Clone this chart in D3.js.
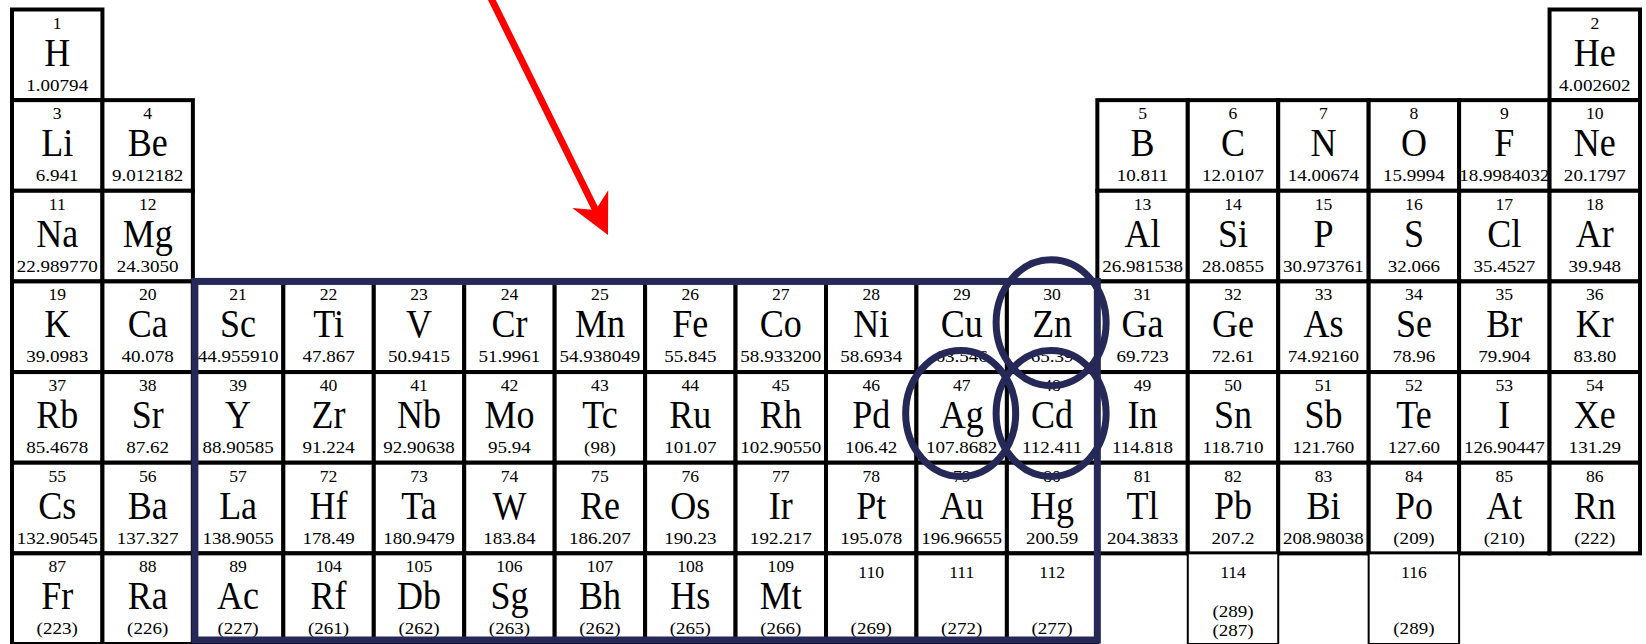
<!DOCTYPE html>
<html>
<head>
<meta charset="utf-8">
<script src="https://cdn.jsdelivr.net/npm/d3@7"></script>
<style>
body { margin: 0; background: #fff; }
svg { display: block; }
text { font-family: "Liberation Serif", "Times New Roman", Times, serif; fill: #000; }
</style>
</head>
<body>
<div id="ptable"></div>
<script>
// element data, one entry per cell
var numbers = [1, 2,
    3, 4, 5, 6, 7, 8, 9, 10,
    11, 12, 13, 14, 15, 16, 17, 18,
    19, 20, 21, 22, 23, 24, 25, 26, 27, 28, 29, 30, 31, 32, 33, 34, 35, 36,
    37, 38, 39, 40, 41, 42, 43, 44, 45, 46, 47, 48, 49, 50, 51, 52, 53, 54,
    55, 56, 57, 72, 73, 74, 75, 76, 77, 78, 79, 80, 81, 82, 83, 84, 85, 86,
    87, 88, 89, 104, 105, 106, 107, 108, 109, 110, 111, 112, 114, 116];
var symbols = ["H", "He",
    "Li", "Be", "B", "C", "N", "O", "F", "Ne",
    "Na", "Mg", "Al", "Si", "P", "S", "Cl", "Ar",
    "K", "Ca", "Sc", "Ti", "V", "Cr", "Mn", "Fe", "Co", "Ni", "Cu", "Zn", "Ga", "Ge", "As", "Se", "Br", "Kr",
    "Rb", "Sr", "Y", "Zr", "Nb", "Mo", "Tc", "Ru", "Rh", "Pd", "Ag", "Cd", "In", "Sn", "Sb", "Te", "I", "Xe",
    "Cs", "Ba", "La", "Hf", "Ta", "W", "Re", "Os", "Ir", "Pt", "Au", "Hg", "Tl", "Pb", "Bi", "Po", "At", "Rn",
    "Fr", "Ra", "Ac", "Rf", "Db", "Sg", "Bh", "Hs", "Mt", "", "", "", "", ""];
var masses = ["1.00794", "4.002602",
    "6.941", "9.012182", "10.811", "12.0107", "14.00674", "15.9994", "18.9984032", "20.1797",
    "22.989770", "24.3050", "26.981538", "28.0855", "30.973761", "32.066", "35.4527", "39.948",
    "39.0983", "40.078", "44.955910", "47.867", "50.9415", "51.9961", "54.938049", "55.845", "58.933200", "58.6934", "63.546", "65.39", "69.723", "72.61", "74.92160", "78.96", "79.904", "83.80",
    "85.4678", "87.62", "88.90585", "91.224", "92.90638", "95.94", "(98)", "101.07", "102.90550", "106.42", "107.8682", "112.411", "114.818", "118.710", "121.760", "127.60", "126.90447", "131.29",
    "132.90545", "137.327", "138.9055", "178.49", "180.9479", "183.84", "186.207", "190.23", "192.217", "195.078", "196.96655", "200.59", "204.3833", "207.2", "208.98038", "(209)", "(210)", "(222)",
    "(223)", "(226)", "(227)", "(261)", "(262)", "(263)", "(262)", "(265)", "(266)", "(269)", "(272)", "(277)", "(289)\n(287)", "(289)"];
var groups = [1, 18,
    1, 2, 13, 14, 15, 16, 17, 18,
    1, 2, 13, 14, 15, 16, 17, 18,
    1, 2, 3, 4, 5, 6, 7, 8, 9, 10, 11, 12, 13, 14, 15, 16, 17, 18,
    1, 2, 3, 4, 5, 6, 7, 8, 9, 10, 11, 12, 13, 14, 15, 16, 17, 18,
    1, 2, 3, 4, 5, 6, 7, 8, 9, 10, 11, 12, 13, 14, 15, 16, 17, 18,
    1, 2, 3, 4, 5, 6, 7, 8, 9, 10, 11, 12, 14, 16];
var periods = [1, 1,
    2, 2, 2, 2, 2, 2, 2, 2,
    3, 3, 3, 3, 3, 3, 3, 3,
    4, 4, 4, 4, 4, 4, 4, 4, 4, 4, 4, 4, 4, 4, 4, 4, 4, 4,
    5, 5, 5, 5, 5, 5, 5, 5, 5, 5, 5, 5, 5, 5, 5, 5, 5, 5,
    6, 6, 6, 6, 6, 6, 6, 6, 6, 6, 6, 6, 6, 6, 6, 6, 6, 6,
    7, 7, 7, 7, 7, 7, 7, 7, 7, 7, 7, 7, 7, 7];

// highlighted block (groups 3-12, periods 4-7) and circled elements
var blockGroups = [3, 12];
var blockPeriods = [4, 7];
var circled = ["Zn", "Ag", "Cd"];

var width = 1646, height = 644;
var navy = "#262957";

var elements = numbers.map(function(n, i) {
    return {num: n, sym: symbols[i], mass: masses[i], group: groups[i], period: periods[i]};
});

var x = d3.scaleBand().domain(d3.range(1, 19)).range([12, 1640]);
var y = d3.scaleBand().domain(d3.range(1, 8)).range([9.5, 644]);
var bw = x.bandwidth(), bh = y.bandwidth();

var svg = d3.select("#ptable").append("svg")
    .attr("width", width)
    .attr("height", height);

var cells = svg.selectAll(".cell")
    .data(elements)
    .enter().append("g")
    .attr("class", "cell")
    .attr("transform", function(d) { return "translate(" + x(d.group) + "," + y(d.period) + ")"; });

cells.append("rect")
    .attr("width", bw)
    .attr("height", bh)
    .attr("fill", "#fff");

cells.append("text")
    .attr("transform", function(d) {
        return "translate(" + bw / 2 + "," + (d.sym === "" ? 25 : 19) + ") scale(1.1,1)";
    })
    .attr("text-anchor", "middle")
    .style("font-size", "16px")
    .text(function(d) { return d.num; });

cells.append("text")
    .attr("transform", "translate(" + bw / 2 + ",56) scale(0.9,1)")
    .attr("text-anchor", "middle")
    .style("font-size", "40px")
    .text(function(d) { return d.sym; });

cells.each(function(d) {
    var lines = d.mass.split("\n");
    var base = lines.length > 1 ? 64 : 81;
    lines.forEach(function(t, k) {
        d3.select(this).append("text")
            .attr("transform", "translate(" + bw / 2 + "," + (base + k * 19) + ") scale(1.12,1)")
            .attr("text-anchor", "middle")
            .style("font-size", "17px")
            .text(t);
    }, this);
});

cells.append("rect")
    .attr("width", bw)
    .attr("height", bh)
    .attr("fill", "none")
    .attr("stroke", "#000")
    .attr("stroke-width", function(d) { return d.num > 112 ? 2 : 4; });

// navy frame around the d-block
svg.append("rect")
    .attr("x", x(blockGroups[0]) + 2)
    .attr("y", y(blockPeriods[0]))
    .attr("width", x(blockGroups[1]) + bw - x(blockGroups[0]) - 2)
    .attr("height", y(blockPeriods[1]) + bh - 4 - y(blockPeriods[0]))
    .attr("fill", "none")
    .attr("stroke", navy)
    .attr("stroke-width", 7);

svg.selectAll(".ring")
    .data(elements.filter(function(d) { return circled.indexOf(d.sym) != -1; }))
    .enter().append("ellipse")
    .attr("class", "ring")
    .attr("cx", function(d) { return x(d.group) + bw / 2 - 1; })
    .attr("cy", function(d) { return y(d.period) + bh / 2 - 4; })
    .attr("rx", 55)
    .attr("ry", 63)
    .attr("fill", "none")
    .attr("stroke", navy)
    .attr("stroke-width", 7);

// red arrow
var start = [482, -20], tip = [608, 235];
var dx = tip[0] - start[0], dy = tip[1] - start[1];
var len = Math.sqrt(dx * dx + dy * dy);
var ux = dx / len, uy = dy / len, px = -uy, py = ux;
function pt(a, p) { return [tip[0] - ux * a + px * p, tip[1] - uy * a + py * p]; }
svg.append("line")
    .attr("x1", start[0]).attr("y1", start[1])
    .attr("x2", pt(26, 0)[0]).attr("y2", pt(26, 0)[1])
    .attr("stroke", "#ff0000")
    .attr("stroke-width", 7);
svg.append("path")
    .attr("d", d3.line()([tip, pt(40, 20), pt(28, 0), pt(40, -20)]) + "Z")
    .attr("fill", "#ff0000");
</script>
</body>
</html>
